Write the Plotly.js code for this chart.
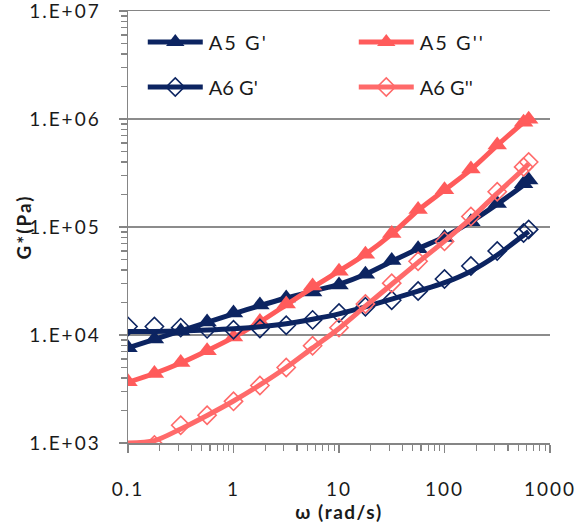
<!DOCTYPE html>
<html>
<head>
<meta charset="utf-8">
<script src="https://cdn.plot.ly/plotly-3.0.1.min.js"></script>
<style>
  html, body { margin: 0; padding: 0; background: #fff; }
  #chart { width: 577px; height: 525px; }
  #chart .xtick text, #chart .ytick text { letter-spacing: 2px; }
  #chart .legendtext { letter-spacing: 2px; }
  #chart .xtitle { letter-spacing: 1.5px; }
  #chart .ytitle { letter-spacing: 2px; }
</style>
</head>
<body>
<div id="chart"></div>
<script>
// Angular frequency sweep (rad/s)
const omega = [0.1, 0.178, 0.316, 0.562, 1, 1.78, 3.16, 5.62, 10, 17.8, 31.6, 56.2, 100, 178, 316, 562, 628];

// Measured moduli (Pa)
const a5StorageG  = [7600, 9200, 10900, 13200, 16000, 19000, 22000, 25000, 29000, 36600, 49000, 63000, 80000, 112000, 165000, 251000, 273000];
const a5LossG     = [3700, 4400, 5560, 7160, 9600, 13300, 19400, 28400, 39000, 55800, 87100, 145000, 221000, 345000, 574000, 933000, 995000];
const a6StorageG  = [12000, 12000, 11700, 11400, 11200, 11500, 12300, 13800, 16000, 18300, 21000, 25500, 33000, 43500, 60000, 88000, 95000];
const a6LossG     = [null, 960, 1460, 1810, 2430, 3410, 5000, 7950, 11700, 19400, 30200, 48200, 73600, 125000, 212000, 360000, 400000];

// Fitted curves (Pa) on the same frequency grid
const a5StorageFit = [7600, 9100, 10900, 13100, 15700, 18700, 22000, 25500, 29500, 36500, 48000, 63000, 81000, 112000, 163000, 245000, 268000];
const a5LossFit    = [3650, 4400, 5500, 7150, 9500, 13200, 19000, 27500, 39000, 56000, 86000, 143000, 220000, 340000, 570000, 930000, 1000000];
const a6StorageFit = [10800, 10800, 10900, 11100, 11400, 11900, 12700, 14000, 15700, 18200, 21500, 25500, 30500, 39000, 55000, 84000, 91000];
const a6LossFit    = [1000, 1050, 1350, 1800, 2450, 3450, 5000, 7600, 11500, 18500, 29500, 47000, 74000, 120000, 205000, 345000, 385000];

const seriesNames = ["A5 G'", "A5 G''", "A6 G'", "A6 G''"];
const yTickVals = [1e3, 1e4, 1e5, 1e6, 1e7];
const yTickText = ["1.E+03", "1.E+04", "1.E+05", "1.E+06", "1.E+07"];
const xTickVals = [0.1, 1, 10, 100, 1000];
const xTickText = ["0.1", "1", "10", "100", "1000"];

// minor tick positions: 2..9 within each decade
function minorTicks(firstExp, lastExp) {
  const out = [];
  for (let e = firstExp; e < lastExp; e++) {
    for (let k = 2; k <= 9; k++) out.push(k * Math.pow(10, e));
  }
  return out;
}
const xMinor = minorTicks(-1, 3);
const yMinor = minorTicks(3, 7);

const NAVY = '#0c2461';
const RED = '#ff5b5b';
const PINK = '#ff6a6a';
const LINE_W = 5;

const styles = [
  { color: NAVY, marker: { symbol: 'triangle-up', size: 17, color: NAVY, line: { width: 0 } } },
  { color: RED,  marker: { symbol: 'triangle-up', size: 17, color: RED,  line: { width: 0 } } },
  { color: NAVY, marker: { symbol: 'diamond-open', size: 14, color: NAVY, line: { width: 1.6, color: NAVY } } },
  { color: PINK, marker: { symbol: 'diamond-open', size: 14, color: PINK, line: { width: 1.6, color: PINK } } }
];
const measured = [a5StorageG, a5LossG, a6StorageG, a6LossG];
const fitted = [a5StorageFit, a5LossFit, a6StorageFit, a6LossFit];
const legendIds = ['legend', 'legend', 'legend2', 'legend2'];

const traces = [];
for (let i = 0; i < 4; i++) {
  traces.push({
    x: omega, y: fitted[i], mode: 'lines', type: 'scatter',
    line: { color: styles[i].color, width: LINE_W, shape: 'spline', smoothing: 0.8 },
    showlegend: false, hoverinfo: 'skip', cliponaxis: true
  });
  traces.push({
    x: omega, y: measured[i], mode: 'markers', type: 'scatter',
    marker: styles[i].marker, showlegend: false, cliponaxis: true
  });
}
// legend entries (line + marker sample)
for (let i = 0; i < 4; i++) {
  traces.push({
    x: [null], y: [null], mode: 'lines+markers', type: 'scatter',
    name: seriesNames[i], legend: legendIds[i],
    line: { color: styles[i].color, width: LINE_W },
    marker: styles[i].marker
  });
}

const FONT = 'Lato, "Open Sans", sans-serif';
const TEXT = '#1a1a1a';
const AXIS = '#858585';
const MINOR_LEN = 6;
const legendCommon = {
  orientation: 'h', xanchor: 'left', yanchor: 'middle',
  entrywidth: 140, entrywidthmode: 'pixels',
  font: { family: FONT, size: 20, color: TEXT },
  bgcolor: 'rgba(255,255,255,0)', borderwidth: 0, itemwidth: 56,
  tracegroupgap: 0
};

const layout = {
  width: 577, height: 525,
  margin: { l: 128, r: 27, t: 11, b: 82 },
  paper_bgcolor: '#ffffff', plot_bgcolor: '#ffffff',
  font: { family: FONT, size: 19, color: TEXT },
  showlegend: true,
  legend: Object.assign({}, legendCommon, { x: 0.035, y: 0.928 }),
  legend2: Object.assign({}, legendCommon, { x: 0.035, y: 0.824 }),
  xaxis: {
    type: 'log', range: [-1, 3],
    tickmode: 'array', tickvals: xTickVals, ticktext: xTickText,
    ticks: 'outside', ticklen: 8, tickwidth: 1.5, tickcolor: AXIS,
    ticklabelstandoff: 21, ticklabeloverflow: 'allow',
    minor: { tickmode: 'array', tickvals: xMinor, ticks: 'outside', ticklen: MINOR_LEN, tickwidth: 1.3, tickcolor: AXIS, showgrid: false },
    showline: true, mirror: true, linecolor: AXIS, linewidth: 1.5,
    showgrid: false, zeroline: false,
    tickfont: { family: FONT, size: 19, color: TEXT },
    title: { text: '<b>ω (rad/s)</b>', font: { family: FONT, size: 19, color: TEXT }, standoff: 0 },
    automargin: false
  },
  yaxis: {
    type: 'log', range: [3, 7],
    tickmode: 'array', tickvals: yTickVals, ticktext: yTickText,
    ticks: 'outside', ticklen: 8, tickwidth: 1.5, tickcolor: AXIS,
    ticklabelstandoff: 14, ticklabeloverflow: 'allow',
    minor: { tickmode: 'array', tickvals: yMinor, ticks: 'outside', ticklen: MINOR_LEN, tickwidth: 1.3, tickcolor: AXIS, showgrid: false },
    showline: true, linecolor: AXIS, linewidth: 1.5,
    showgrid: true, gridcolor: '#8c8c8c', gridwidth: 1.5, zeroline: false,
    tickfont: { family: FONT, size: 19, color: TEXT },
    title: { text: '<b>G*(Pa)</b>', font: { family: FONT, size: 19, color: TEXT }, standoff: 4 },
    automargin: false
  }
};

// Minor tick marks placed through the axes' own data-to-pixel scales,
// used when the axis did not render its minor ticks itself.
function ensureMinorTicks(gd) {
  const fl = gd._fullLayout;
  const xa = fl.xaxis, ya = fl.yaxis;
  const ns = 'http://www.w3.org/2000/svg';
  const svg = gd.querySelector('.main-svg');
  const g = document.createElementNS(ns, 'g');
  g.setAttribute('class', 'minor-ticks');
  function seg(x1, y1, x2, y2) {
    const l = document.createElementNS(ns, 'line');
    l.setAttribute('x1', x1); l.setAttribute('y1', y1);
    l.setAttribute('x2', x2); l.setAttribute('y2', y2);
    l.setAttribute('stroke', AXIS); l.setAttribute('stroke-width', 1.3);
    g.appendChild(l);
  }
  const bottom = ya._offset + ya._length;
  const left = xa._offset;
  if (gd.querySelectorAll('path.xtick').length <= xTickVals.length) {
    xMinor.forEach(function (v) {
      const px = Math.round(xa._offset + xa.d2p(v)) + 0.5;
      seg(px, bottom, px, bottom + MINOR_LEN);
    });
  }
  if (gd.querySelectorAll('path.ytick').length <= yTickVals.length) {
    yMinor.forEach(function (v) {
      const py = Math.round(ya._offset + ya.d2p(v)) + 0.5;
      seg(left - MINOR_LEN, py, left, py);
    });
  }
  if (g.childNodes.length) svg.appendChild(g);
}

Plotly.newPlot('chart', traces, layout, { displayModeBar: false, staticPlot: true }).then(function (gd) {
  // longer line samples in the legend, marker centred on them
  gd.querySelectorAll('.legendlines path').forEach(function (p) { p.setAttribute('d', 'M5,0h55'); });
  gd.querySelectorAll('.legendpoints path').forEach(function (p) { p.setAttribute('transform', 'translate(32.5,0)'); });
  ensureMinorTicks(gd);
});
</script>
</body>
</html>
